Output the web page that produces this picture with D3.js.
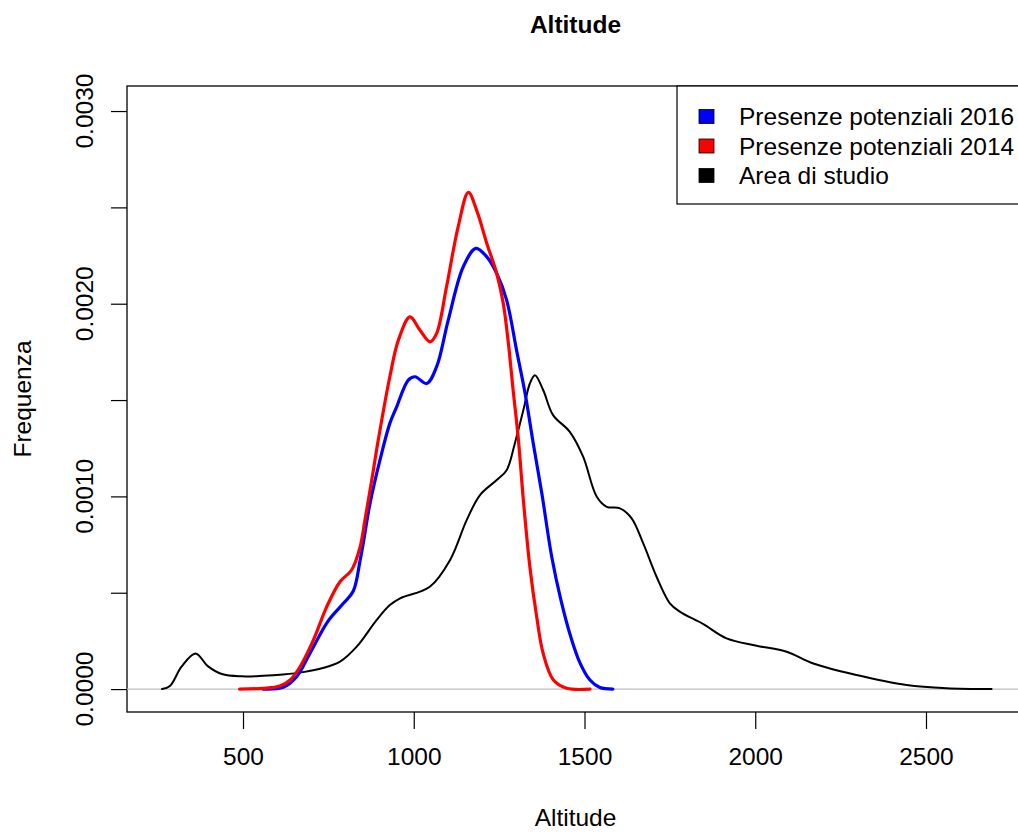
<!DOCTYPE html>
<html>
<head>
<meta charset="utf-8">
<script src="https://cdn.jsdelivr.net/npm/d3@7"></script>
<style>
  html, body { margin: 0; padding: 0; background: #fff; }
  svg { display: block; font-family: "Liberation Sans", Arial, sans-serif; }
</style>
</head>
<body>
<svg id="chart" width="1018" height="832"></svg>
<script>
// ---- data (density estimates) ----
const areaX = [263, 286, 320, 361, 397, 438, 496, 559, 617, 676, 734, 784, 833, 891, 930, 960, 1047, 1106, 1155, 1194, 1243, 1272, 1296, 1321, 1340, 1355, 1379, 1408, 1457, 1496, 1536, 1565, 1604, 1638, 1672, 1711, 1750, 1780, 1848, 1916, 2004, 2092, 2170, 2297, 2443, 2560, 2692];
const areaY = [0.000000, 0.000016, 0.000116, 0.000185, 0.000119, 0.000078, 0.000066, 0.000069, 0.000076, 0.000088, 0.000109, 0.000142, 0.000220, 0.000358, 0.000436, 0.000471, 0.000531, 0.000669, 0.000877, 0.001007, 0.001085, 0.001136, 0.001275, 0.001448, 0.001586, 0.001629, 0.001552, 0.001422, 0.001335, 0.001206, 0.000998, 0.000946, 0.000938, 0.000886, 0.000756, 0.000583, 0.000445, 0.000401, 0.000337, 0.000263, 0.000225, 0.000194, 0.000133, 0.000073, 0.000021, 0.000004, 0.000000];

const p2016X = [559, 618, 657, 696, 749, 794, 823, 843, 852, 872, 901, 930, 950, 984, 1004, 1038, 1067, 1101, 1145, 1182, 1214, 1243, 1272, 1301, 1326, 1350, 1375, 1404, 1431, 1460, 1487, 1516, 1545, 1583];
const p2016Y = [0.000000, 0.000009, 0.000064, 0.000185, 0.000353, 0.000445, 0.000509, 0.000669, 0.000756, 0.000964, 0.001188, 0.001379, 0.001465, 0.001604, 0.001621, 0.001586, 0.001673, 0.001915, 0.002192, 0.002287, 0.002243, 0.002157, 0.002019, 0.001759, 0.001535, 0.001275, 0.001016, 0.000687, 0.000462, 0.000270, 0.000135, 0.000047, 0.000008, 0.000000];

const p2014X = [490, 559, 608, 638, 667, 706, 745, 784, 818, 843, 857, 877, 896, 930, 955, 989, 1018, 1048, 1067, 1096, 1130, 1160, 1184, 1214, 1243, 1262, 1277, 1291, 1306, 1321, 1340, 1360, 1379, 1409, 1448, 1516];
const p2014Y = [0.000000, 0.000004, 0.000016, 0.000047, 0.000116, 0.000254, 0.000427, 0.000557, 0.000618, 0.000738, 0.000877, 0.001085, 0.001292, 0.001621, 0.001811, 0.001932, 0.001863, 0.001802, 0.001846, 0.002088, 0.002399, 0.002578, 0.002486, 0.002313, 0.002157, 0.002003, 0.001796, 0.001552, 0.001303, 0.000981, 0.000635, 0.000375, 0.000185, 0.000047, 0.000004, 0.000000];

const xTicks = [500, 1000, 1500, 2000, 2500];
const yTicks = [0, 0.0005, 0.001, 0.0015, 0.002, 0.0025, 0.003];
const yTickLabels = ["0.0000", "0.0010", "0.0020", "0.0030"];
const legendLabels = ["Presenze potenziali 2016", "Presenze potenziali 2014", "Area di studio"];
const legendColors = ["#0000ff", "#ff0000", "#000000"];

// ---- layout ----
const svg = d3.select("#chart");
const L = 127, R = 1024, T = 86, B = 712;
const x = d3.scaleLinear().domain([160.3, 2787]).range([L, R]);
const y = d3.scaleLinear().domain([-0.000119, 0.00313]).range([B, T]);
const FS = 24.5;

// plot box
svg.append("rect").attr("x", L).attr("y", T).attr("width", R - L).attr("height", B - T)
  .attr("fill", "none").attr("stroke", "#000").attr("stroke-width", 1.3);

// zero line
svg.append("line").attr("x1", L).attr("x2", R).attr("y1", y(0)).attr("y2", y(0))
  .attr("stroke", "#bebebe").attr("stroke-width", 1.3);

// x axis
const xAxis = d3.axisBottom(x).tickValues(xTicks).tickSize(17).tickPadding(19).tickFormat(d3.format("d"));
const gx = svg.append("g").attr("transform", `translate(0,${B})`).call(xAxis);
gx.select(".domain").remove();
gx.selectAll("line").attr("stroke", "#000").attr("stroke-width", 1.2);
gx.selectAll("text").attr("font-size", FS).attr("fill", "#000").attr("font-family", "Liberation Sans, Arial, sans-serif");

// y axis
const yAxis = d3.axisLeft(y).tickValues(yTicks).tickSize(16).tickFormat(() => "");
const gy = svg.append("g").attr("transform", `translate(${L},0)`).call(yAxis);
gy.select(".domain").remove();
gy.selectAll("line").attr("stroke", "#000").attr("stroke-width", 1.2);
svg.append("g").selectAll("text").data(yTickLabels).join("text")
  .attr("transform", d => `translate(93,${y(+d)}) rotate(-90)`)
  .attr("text-anchor", "middle")
  .attr("font-size", FS).attr("fill", "#000")
  .text(d => d);

// titles
svg.append("text").attr("x", (L + R) / 2).attr("y", 33).attr("text-anchor", "middle")
  .attr("font-size", FS).attr("font-weight", "bold").text("Altitude");
svg.append("text").attr("x", (L + R) / 2).attr("y", 826).attr("text-anchor", "middle")
  .attr("font-size", FS).text("Altitude");
svg.append("text").attr("transform", `translate(31,${(T + B) / 2}) rotate(-90)`)
  .attr("text-anchor", "middle").attr("font-size", FS).text("Frequenza");

// curves
const line = d3.line().x(d => x(d[0])).y(d => y(d[1])).curve(d3.curveCatmullRom.alpha(0.5));
const plotG = svg.append("g");
function draw(xs, ys, color, w) {
  plotG.append("path").datum(xs.map((v, i) => [v, ys[i]]))
    .attr("d", line).attr("fill", "none").attr("stroke", color)
    .attr("stroke-width", w).attr("stroke-linejoin", "round").attr("stroke-linecap", "round");
}
draw(areaX, areaY, "#000000", 2);
draw(p2016X, p2016Y, "#0000ff", 3.2);
draw(p2014X, p2014Y, "#ff0000", 3.2);

// legend
const lg = svg.append("g");
lg.append("rect").attr("x", 677).attr("y", T).attr("width", R - 677).attr("height", 204 - T)
  .attr("fill", "#fff").attr("stroke", "#000").attr("stroke-width", 1.2);
const rowY = [116.5, 146, 175.5];
legendLabels.forEach((lab, i) => {
  lg.append("rect").attr("x", 699).attr("y", rowY[i] - 7).attr("width", 15).attr("height", 14)
    .attr("fill", legendColors[i]).attr("stroke", "#000").attr("stroke-width", 0.8);
  lg.append("text").attr("x", 739).attr("y", rowY[i] + 8.5).attr("font-size", FS).text(lab);
});
</script>
</body>
</html>
